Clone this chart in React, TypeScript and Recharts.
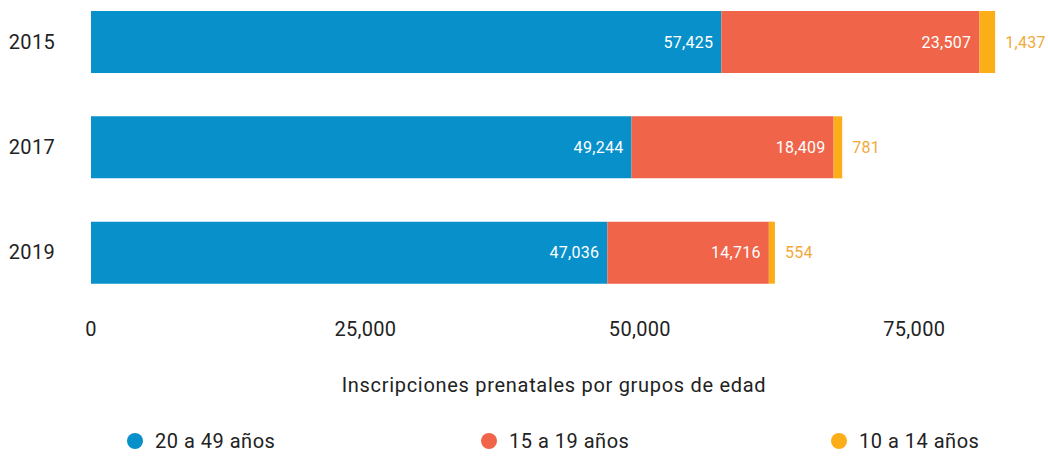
import React from 'react';
import { BarChart, Bar, XAxis, YAxis, LabelList, Legend, Label } from 'recharts';

const years = ['2015', '2017', '2019'];
const adultas = [57425, 49244, 47036];
const adolescentes = [23507, 18409, 14716];
const ninas = [1437, 781, 554];
const seriesNames = ['20 a 49 años', '15 a 19 años', '10 a 14 años'];
const seriesColors = ['#0890CB', '#F0654A', '#FBAE17'];
const xTicks = [0, 25000, 50000, 75000];
const axisTitle = 'Inscripciones prenatales por grupos de edad';

const data = years.map((y, i) => ({ year: y, a: adultas[i], b: adolescentes[i], c: ninas[i] }));

const FONT = "Roboto, 'DejaVu Sans', sans-serif";
const fmt = (v: any) => Number(v).toLocaleString('en-US');

const YearTick = (props: any) => {
  const { x, y, payload } = props;
  return (
    <text x={x - 34} y={y} dy={7} textAnchor="end" fill="#222" fontSize={20} letterSpacing={0.3} fontFamily={FONT}>
      {payload.value}
    </text>
  );
};

const ValueTick = (props: any) => {
  const { x, y, payload } = props;
  return (
    <text x={x} y={y} dy={23} textAnchor="middle" fill="#222" fontSize={20} letterSpacing={0.3} fontFamily={FONT}>
      {fmt(payload.value)}
    </text>
  );
};

const legendLeft = [127, 481, 831];

const LegendContent = () => (
  <div style={{ position: 'relative', width: 1048, height: 0 }}>
    {seriesNames.map((n, i) => (
      <div key={n} style={{ position: 'absolute', left: legendLeft[i], top: 0, display: 'flex', alignItems: 'center', fontFamily: FONT, fontSize: 20, letterSpacing: 0.5, color: '#222' }}>
        <span style={{ width: 16, height: 16, borderRadius: 8, background: seriesColors[i], display: 'inline-block', marginRight: 12 }} />
        {n}
      </div>
    ))}
  </div>
);

export default function App() {
  return (
    <div style={{ position: 'absolute', left: 0, top: 0, width: 1048, height: 457, background: '#fff' }}>
      <BarChart
        width={1048}
        height={457}
        data={data}
        layout="vertical"
        margin={{ top: -11, right: 13, left: 0, bottom: 60 }}
      >
        <XAxis
          type="number"
          domain={[0, 86000]}
          ticks={xTicks}
          axisLine={false}
          tickLine={false}
          tick={<ValueTick />}
          height={92}
          interval={0}
        >
          <Label value={axisTitle} position="insideBottom" offset={5} dx={-9} fill="#222" fontSize={20} letterSpacing={0.7} fontFamily={FONT} />
        </XAxis>
        <YAxis
          type="category"
          dataKey="year"
          width={91}
          axisLine={false}
          tickLine={false}
          tickSize={0}
          tick={<YearTick />}
        />
        <Legend
          content={<LegendContent />}
          wrapperStyle={{ top: 429, left: 0, width: 1048, height: 0, overflow: 'visible' }}
        />
        <Bar dataKey="a" name={seriesNames[0]} stackId="s" fill={seriesColors[0]} barSize={62} isAnimationActive={false}>
          <LabelList dataKey="a" position="insideRight" offset={8} fill="#fff" fontSize={16} letterSpacing={0.3} fontFamily={FONT} formatter={fmt} />
        </Bar>
        <Bar dataKey="b" name={seriesNames[1]} stackId="s" fill={seriesColors[1]} barSize={62} isAnimationActive={false}>
          <LabelList dataKey="b" position="insideRight" offset={8} fill="#fff" fontSize={16} letterSpacing={0.3} fontFamily={FONT} formatter={fmt} />
        </Bar>
        <Bar dataKey="c" name={seriesNames[2]} stackId="s" fill={seriesColors[2]} barSize={62} isAnimationActive={false}>
          <LabelList dataKey="c" position="right" offset={10} fill="#F2A93B" fontSize={16} letterSpacing={0.3} fontFamily={FONT} formatter={fmt} />
        </Bar>
      </BarChart>
    </div>
  );
}
